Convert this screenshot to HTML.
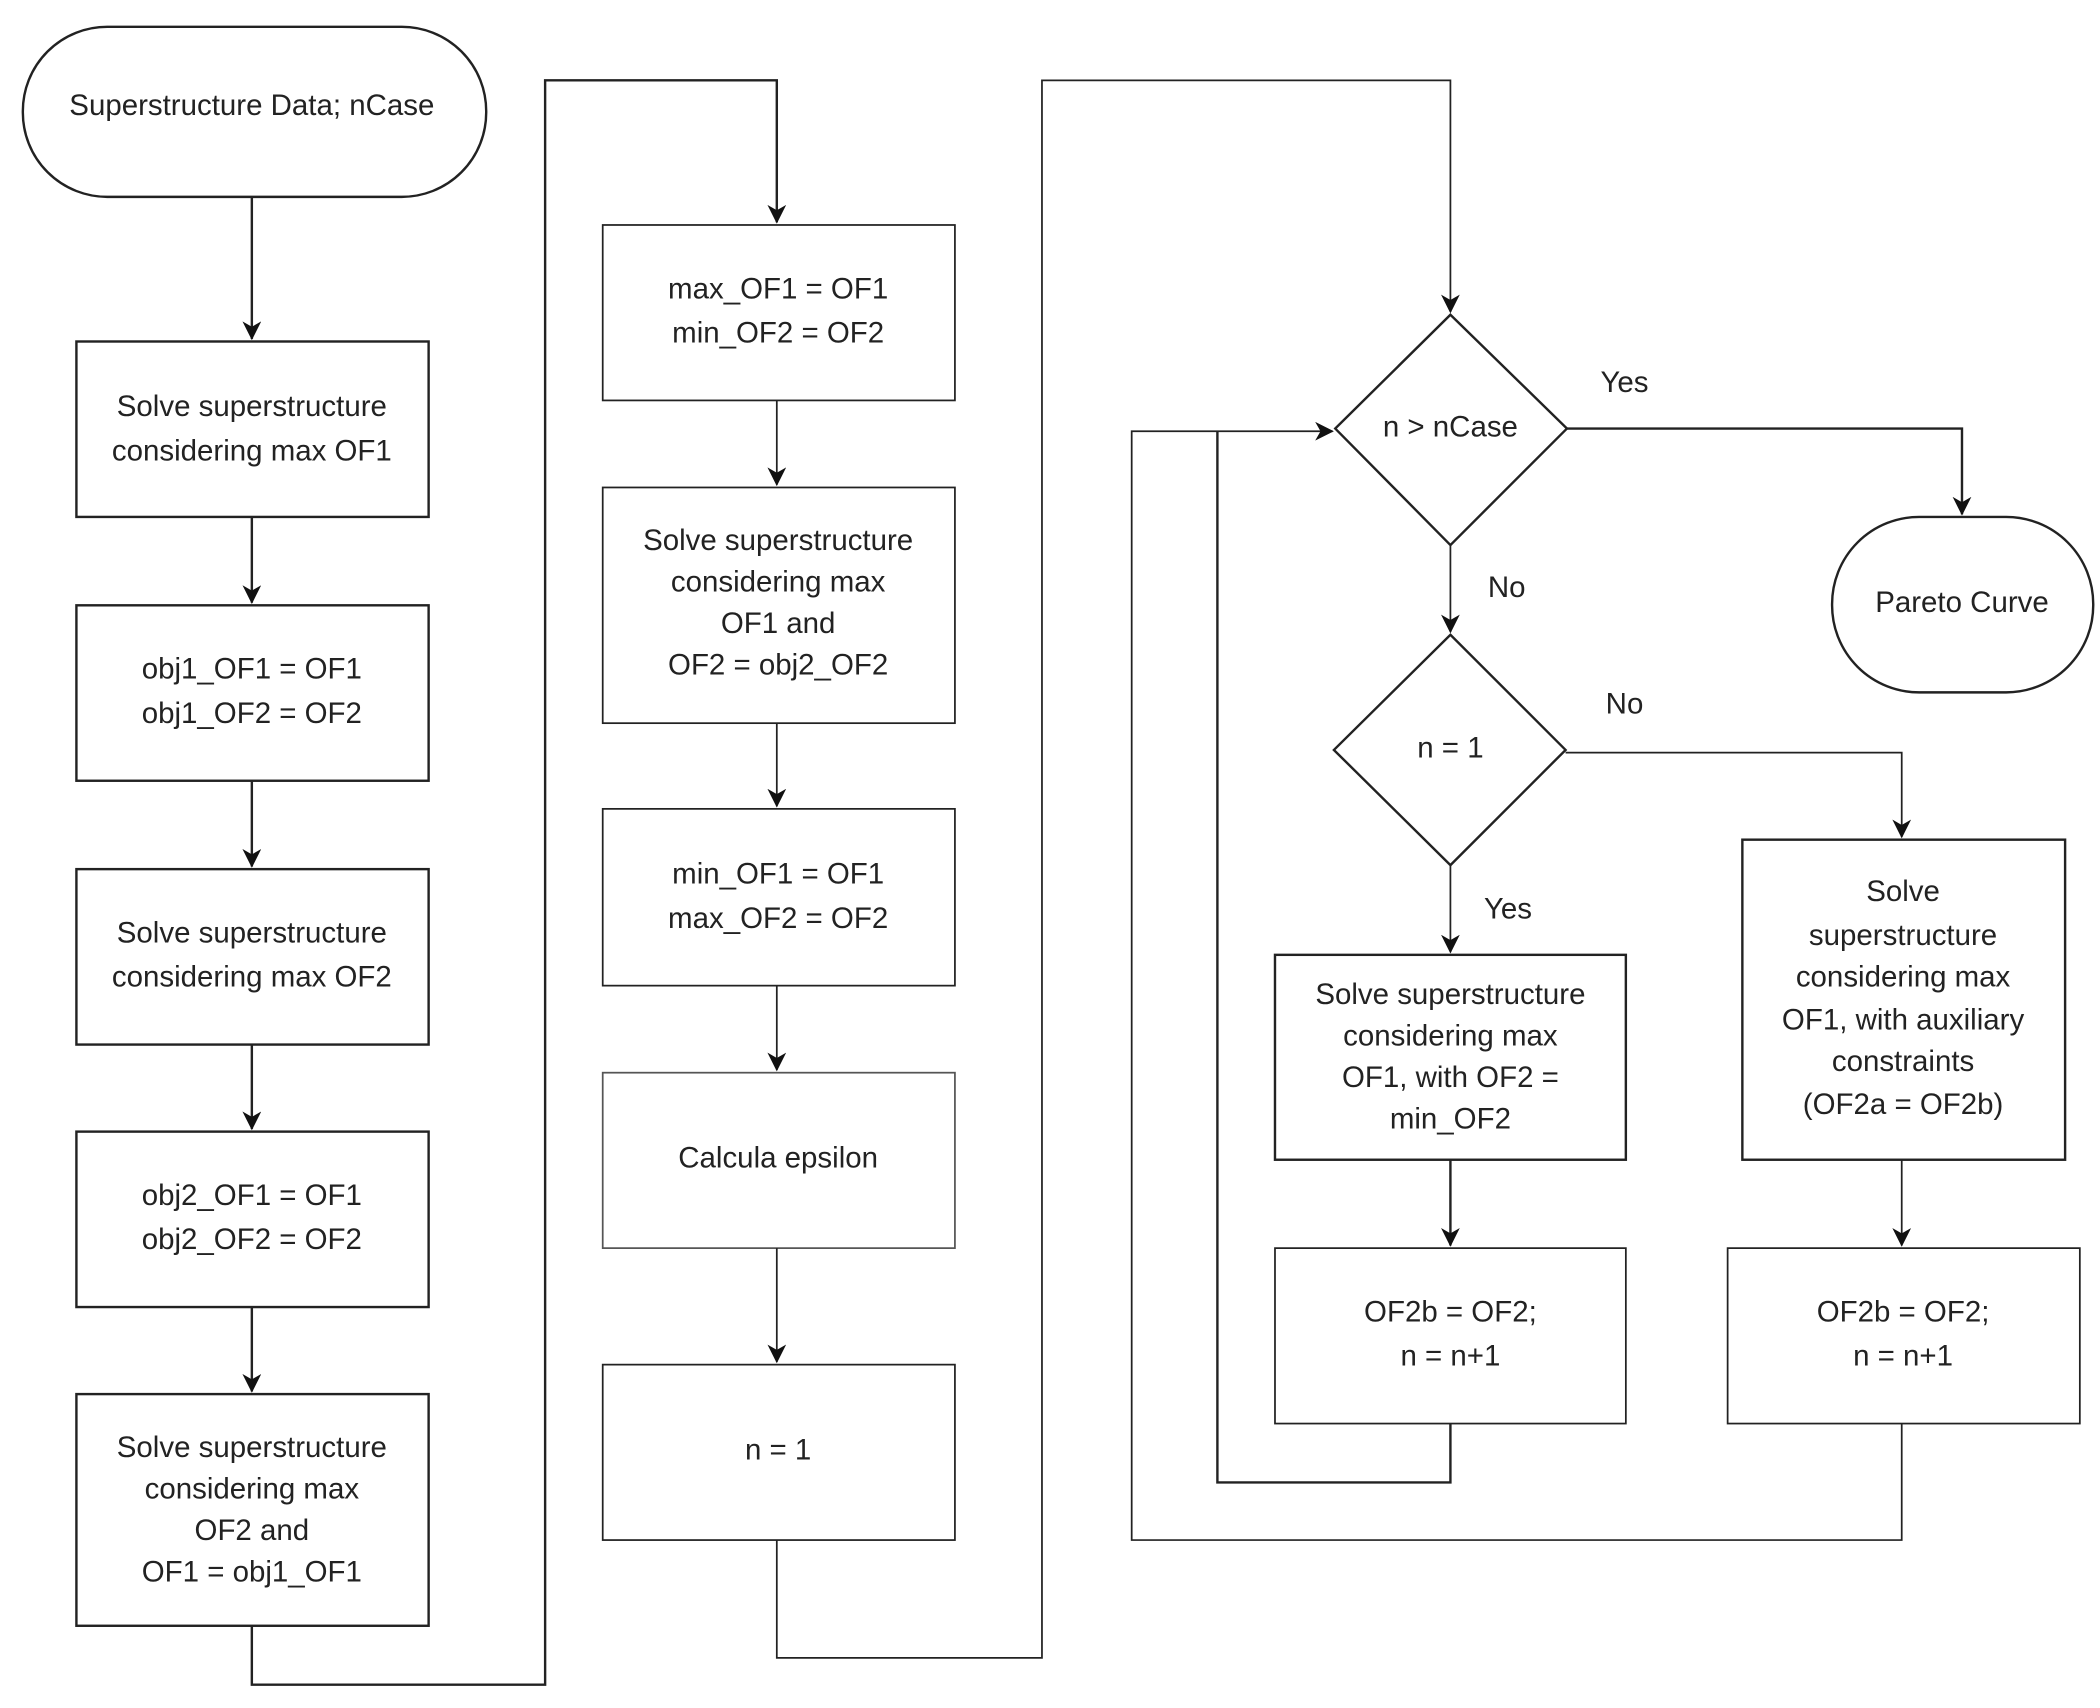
<!DOCTYPE html>
<html><head><style>html,body{margin:0;padding:0;background:#fff}svg{display:block}</style></head>
<body>
<svg width="2100" height="1708" viewBox="0 0 1568 1275.4" xmlns="http://www.w3.org/2000/svg">
<defs><marker id="a" markerWidth="10" markerHeight="10" refX="9" refY="5" orient="auto" markerUnits="userSpaceOnUse" viewBox="0 0 10 10"><path d="M0,0 L10,5 L0,10 L3,5 Z" fill="#111"/></marker>
<marker id="b" markerWidth="14" markerHeight="14" refX="13" refY="7" orient="auto" markerUnits="userSpaceOnUse" viewBox="0 0 14 14"><path d="M0,0 L14,7 L0,14 L4,7 Z" fill="#111"/></marker></defs>
<g fill="#fff" stroke="#222" stroke-width="1.8">
<rect x="17" y="20" width="346" height="127" rx="63"/>
<rect x="57" y="255" width="263" height="131"/>
<rect x="57" y="452" width="263" height="131"/>
<rect x="57" y="649" width="263" height="131"/>
<rect x="57" y="845" width="263" height="131"/>
<rect x="57" y="1041" width="263" height="173"/>
<rect x="450" y="168" width="263" height="131" stroke-width="1.3"/>
<rect x="450" y="364" width="263" height="176" stroke-width="1.3"/>
<rect x="450" y="604" width="263" height="132" stroke-width="1.3"/>
<rect x="450" y="801" width="263" height="131" stroke-width="1.3" stroke="#555"/>
<rect x="450" y="1019" width="263" height="131" stroke-width="1.3"/>
<polygon points="1083,235 1170,320 1083,407 997,320"/>
<polygon points="1083,474 1169,560 1083,646 996,560"/>
<rect x="1368" y="386" width="195" height="131" rx="65"/>
<rect x="952" y="713" width="262" height="153"/>
<rect x="952" y="932" width="262" height="131" stroke-width="1.3"/>
<rect x="1301" y="627" width="241" height="239"/>
<rect x="1290" y="932" width="263" height="131" stroke-width="1.3"/>
</g>
<g fill="none" stroke="#222" stroke-width="1.8">
<path d="M188,147 V253" marker-end="url(#b)"/>
<path d="M188,386 V450" marker-end="url(#b)"/>
<path d="M188,583 V647" marker-end="url(#b)"/>
<path d="M188,780 V843" marker-end="url(#b)"/>
<path d="M188,976 V1039" marker-end="url(#b)"/>
<path d="M188,1214 V1258 H407 V60 H580 V166" marker-end="url(#b)"/>
<path d="M580,299 V362" stroke-width="1.3" marker-end="url(#b)"/>
<path d="M580,540 V602" stroke-width="1.3" marker-end="url(#b)"/>
<path d="M580,736 V799" stroke-width="1.3" marker-end="url(#b)"/>
<path d="M580,932 V1017" stroke-width="1.3" marker-end="url(#b)"/>
<path d="M580,1150 V1238 H778 V60 H1083 V233" stroke-width="1.3" marker-end="url(#b)"/>
<path d="M1170,320 H1465 V384" marker-end="url(#b)"/>
<path d="M1083,407 V472" stroke-width="1.3" marker-end="url(#b)"/>
<path d="M1169,562 H1420 V625" stroke-width="1.3" marker-end="url(#b)"/>
<path d="M1083,646 V711" stroke-width="1.3" marker-end="url(#b)"/>
<path d="M1083,866 V930" marker-end="url(#b)"/>
<path d="M1420,866 V930" stroke-width="1.3" marker-end="url(#b)"/>
<path d="M1083,1063 V1107 H909 V322"/>
<path d="M1420,1063 V1150 H845 V322 H995" stroke-width="1.3" marker-end="url(#b)"/>
</g>
<g font-family="Liberation Sans, sans-serif" font-size="22" fill="#222" text-anchor="middle" dominant-baseline="middle">
<text x="188" y="80">Superstructure Data; nCase</text>
<text x="188" y="305">Solve superstructure</text><text x="188" y="338">considering  max OF1</text>
<text x="188" y="501">obj1_OF1 = OF1</text><text x="188" y="534">obj1_OF2 = OF2</text>
<text x="188" y="698">Solve superstructure</text><text x="188" y="731">considering  max OF2</text>
<text x="188" y="894">obj2_OF1 = OF1</text><text x="188" y="927">obj2_OF2 = OF2</text>
<text x="188" y="1082">Solve superstructure</text><text x="188" y="1113">considering  max</text><text x="188" y="1144">OF2 and</text><text x="188" y="1175">OF1 = obj1_OF1</text>
<text x="581" y="217">max_OF1 = OF1</text><text x="581" y="250">min_OF2 = OF2</text>
<text x="581" y="405">Solve superstructure</text><text x="581" y="436">considering  max</text><text x="581" y="467">OF1 and</text><text x="581" y="498">OF2 = obj2_OF2</text>
<text x="581" y="654">min_OF1 = OF1</text><text x="581" y="687">max_OF2 = OF2</text>
<text x="581" y="866">Calcula epsilon</text>
<text x="581" y="1084">n = 1</text>
<text x="1083" y="320">n &gt; nCase</text>
<text x="1083" y="560">n = 1</text>
<text x="1213" y="287">Yes</text><text x="1125" y="440">No</text><text x="1213" y="527">No</text><text x="1126" y="680">Yes</text>
<text x="1465" y="451">Pareto Curve</text>
<text x="1083" y="744">Solve superstructure</text><text x="1083" y="775">considering  max</text><text x="1083" y="806">OF1, with OF2 =</text><text x="1083" y="837">min_OF2</text>
<text x="1083" y="981">OF2b = OF2;</text><text x="1083" y="1014">n = n+1</text>
<text x="1421" y="667">Solve</text><text x="1421" y="700">superstructure</text><text x="1421" y="731">considering  max</text><text x="1421" y="763">OF1, with auxiliary</text><text x="1421" y="794">constraints</text><text x="1421" y="826">(OF2a = OF2b)</text>
<text x="1421" y="981">OF2b = OF2;</text><text x="1421" y="1014">n = n+1</text>
</g>
</svg>
</body></html>
